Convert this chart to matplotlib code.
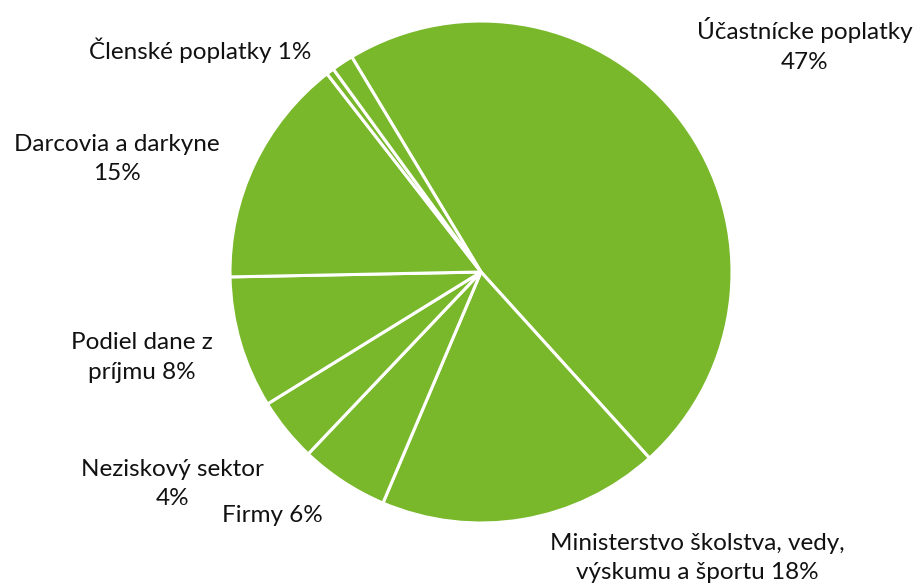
import matplotlib
matplotlib.use("Agg")
import matplotlib.pyplot as plt

plt.rcParams['font.family'] = ['Lato', 'DejaVu Sans']

# clockwise from the top-left
labels = ["Účastnícke poplatky\n47%", "Ministerstvo školstva, vedy,\nvýskumu a športu 18%",
          "Firmy 6%", "Neziskový sektor\n4%", "Podiel dane z\npríjmu 8%",
          "Darcovia a darkyne\n15%", "", "Členské poplatky 1%"]
values = [46.9, 18.1, 5.7, 4.1, 8.5, 14.8, 0.5, 1.4]

# where each label sits (pie radius = 1)
label_pos = [(1.29, 0.905), (0.861, -1.139), (-0.83, -0.972), (-1.23, -0.845),
             (-1.35, -0.34), (-1.45, 0.45), (0, 0), (-1.12, 0.885)]

fig = plt.figure(figsize=(9.23, 5.86), dpi=100)
ax = fig.add_axes([0, 0, 1, 1])

wedges, _ = ax.pie(values, startangle=121, counterclock=False, radius=1,
                   colors=['#78b82a'] * len(values),
                   wedgeprops=dict(edgecolor='white', linewidth=2.2))

for lab, (x, y) in zip(labels, label_pos):
    if lab:
        ax.text(x, y, lab, ha='center', va='center', fontsize=17.5,
                color='#111111', linespacing=1.5)

ax.set_xlim(-481/251, (923-481)/251)
ax.set_ylim((272-586)/251, 272/251)
ax.set_aspect('auto')
ax.axis('off')

fig.savefig("out.png", dpi=100)
